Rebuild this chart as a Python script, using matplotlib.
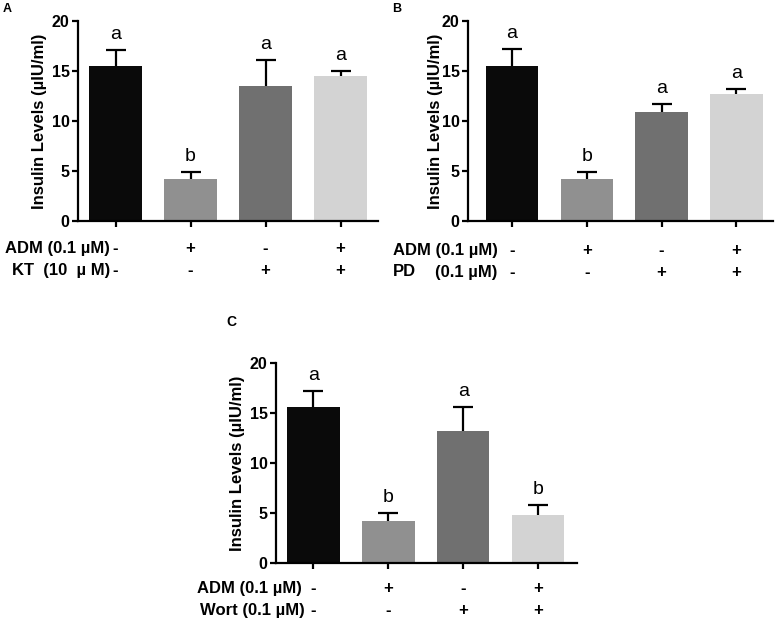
import matplotlib.pyplot as plt

plt.rcParams['font.family'] = ['Liberation Sans', 'DejaVu Sans']

# --- data ---
groups = ["1", "2", "3", "4"]
colors = ["#0a0a0a", "#909090", "#707070", "#d3d3d3"]

a_mean = [15.5, 4.2, 13.5, 14.5]
a_sem = [1.6, 0.7, 2.6, 0.5]
a_letters = ["a", "b", "a", "a"]

b_mean = [15.5, 4.2, 10.9, 12.7]
b_sem = [1.7, 0.7, 0.8, 0.5]
b_letters = ["a", "b", "a", "a"]

c_mean = [15.6, 4.25, 13.2, 4.8]
c_sem = [1.6, 0.75, 2.4, 1.0]
c_letters = ["a", "b", "a", "b"]

adm_signs = ["-", "+", "-", "+"]
drug_signs = ["-", "-", "+", "+"]

W, H = 777, 620
fig = plt.figure(figsize=(W / 100, H / 100), dpi=100)


def px_axes(x0, x1, y0, y1):
    # pixel box -> figure fraction
    return fig.add_axes([x0 / W, 1 - y0 / H, (x1 - x0) / W, (y0 - y1) / H])


def panel(ax, means, sems, letters, xlim, row_y, ylab_x):
    x = list(range(len(means)))
    tops = [m + s for m, s in zip(means, sems)]
    ax.bar(x, means, width=0.7, color=colors, edgecolor="none", zorder=2)
    # upper error bar only, with a cap on top
    ax.vlines(x, means, tops, color="black", lw=1.6, zorder=3)
    ax.plot(x, tops, ls="none", marker="_", ms=15, mew=1.6, color="black", zorder=3)
    for i, (t, l) in enumerate(zip(tops, letters)):
        ax.annotate(l, (i, t), xytext=(0, 5), textcoords="offset points",
                    ha="center", va="bottom", fontsize=14)
    ax.set_xlim(*xlim)
    ax.set_ylim(0, 20)
    ax.set_yticks([0, 5, 10, 15, 20])
    ax.set_xticks(x)
    ax.set_xticklabels([])
    for s in ["top", "right"]:
        ax.spines[s].set_visible(False)
    for s in ["left", "bottom"]:
        ax.spines[s].set_linewidth(1.6)
    ax.tick_params(width=1.6, length=4, labelsize=11.5, pad=2)
    for lab in ax.get_yticklabels():
        lab.set_fontweight("bold")
    ax.set_ylabel("Insulin Levels (\u00b5IU/ml)", fontsize=12, fontweight="bold")
    ax.yaxis.set_label_coords(ylab_x, 0.5)
    tr = ax.get_xaxis_transform()
    for i in x:
        ax.text(i, row_y[0], adm_signs[i], transform=tr, ha="center", va="center",
                fontsize=12, fontweight="bold")
        ax.text(i, row_y[1], drug_signs[i], transform=tr, ha="center", va="center",
                fontsize=12, fontweight="bold")


def ftext(x, y, s, ha="right", **kw):
    fig.text(x / W, 1 - y / H, s, ha=ha, va="center", fontsize=12, fontweight="bold", **kw)


# --- A ---
axA = px_axes(78, 378, 221, 21)
panel(axA, a_mean, a_sem, a_letters, (-0.5, 3.5), (-0.14, -0.25), -0.103)
ftext(110, 249, "ADM (0.1 \u00b5M)")
ftext(110, 271, "KT  (10  \u00b5 M)")
fig.text(3 / W, 1 - 9 / H, "A", fontsize=9, fontweight="bold", va="center")

# --- B ---
axB = px_axes(468, 773, 221, 21)
panel(axB, b_mean, b_sem, b_letters, (-0.59, 3.49), (-0.15, -0.26), -0.082)
ftext(393, 251, "ADM (0.1 \u00b5M)", ha="left")
ftext(393, 272, "PD", ha="left")
ftext(497, 272, "(0.1 \u00b5M)")
fig.text(392 / W, 1 - 9 / H, "B", fontsize=9, fontweight="bold", va="center")

# --- C ---
axC = px_axes(276, 577, 563, 363)
panel(axC, c_mean, c_sem, c_letters, (-0.5, 3.52), (-0.13, -0.24), -0.103)
ftext(302, 589, "ADM (0.1 \u00b5M)")
ftext(305, 611, "Wort (0.1 \u00b5M)")
fig.text(226 / W, 1 - 322 / H, "C", fontsize=10, fontweight="bold", va="center")

fig.savefig("out.png", dpi=100)
